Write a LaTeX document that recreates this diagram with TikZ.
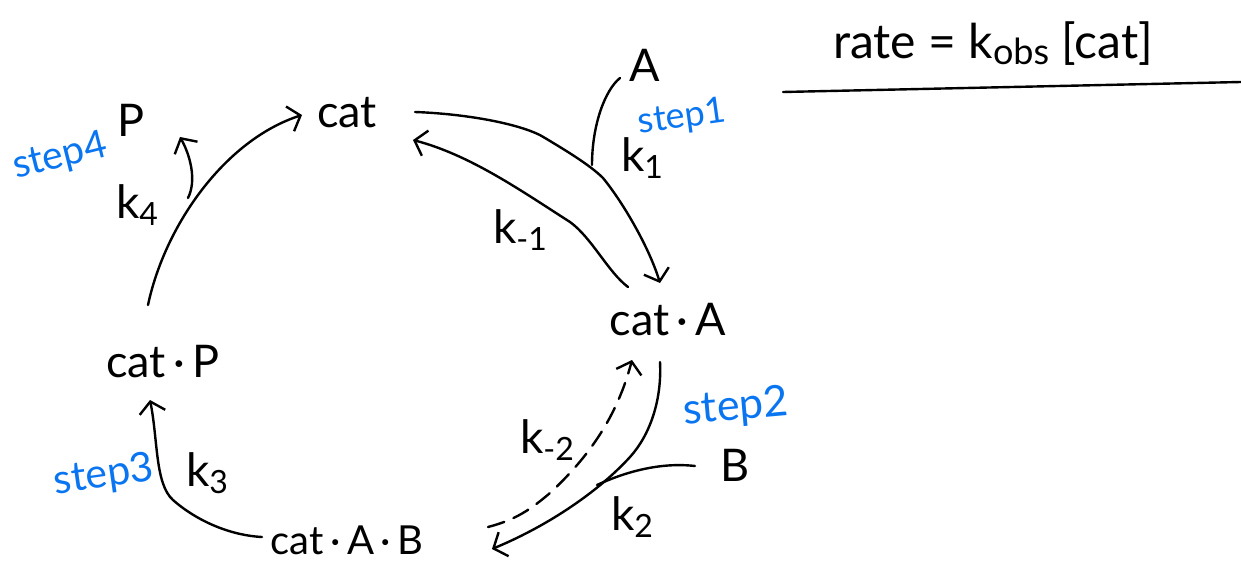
\documentclass[tikz,border=0pt]{standalone}
\usepackage{fontspec}
\setmainfont{Lato}
\usetikzlibrary{arrows.meta}
\definecolor{stepblue}{HTML}{0A75F0}
\newcommand{\ksub}[1]{k\raisebox{-7pt}{\fontsize{32}{34}\selectfont #1}}
\newcommand{\dotsep}{\,·\,}
\tikzset{
  x=1pt,y=-1pt,
  species/.style={inner sep=0pt,font=\fontsize{45}{50}\selectfont,text=black},
  rateconst/.style={inner sep=0pt,font=\fontsize{46}{50}\selectfont,text=black},
  steplabel/.style={inner sep=0pt,font=\fontsize{39}{42}\selectfont,text=stepblue},
  conn/.style={draw=black,line width=2.4pt,line cap=round,line join=round},
  flow/.style={conn,-{Straight Barb[length=11pt,width=26pt,line width=2.4pt]}},
  dashflow/.style={flow,dash pattern=on 17pt off 10pt}
}
\begin{document}
\begin{tikzpicture}
\useasboundingbox (0,0) rectangle (1241,561);
% species
\node[species] (cat) at (347,113) {cat};
\node[species] (catA) at (668,320) {cat\dotsep A};
\node[species] (catP) at (163,362) {cat\dotsep P};
\node[species,font=\fontsize{40}{44}\selectfont] (catAB) at (347,540) {cat\dotsep A\dotsep B};
\node[species] (A) at (645,65) {A};
\node[species] (B) at (735,465) {B};
\node[species] (P) at (131,120) {P};
% rate constants
\node[rateconst] (k1) at (642,158) {\ksub{1}};
\node[rateconst] (km1) at (520,230) {\ksub{-1}};
\node[rateconst] (k2) at (632,517) {\ksub{2}};
\node[rateconst] (km2) at (547,440) {\ksub{-2}};
\node[rateconst] (k3) at (207,473) {\ksub{3}};
\node[rateconst] (k4) at (137,205) {\ksub{4}};
% step labels
\node[steplabel,rotate=8,font=\fontsize{36}{40}\selectfont] (s1) at (682,118) {step1};
\node[steplabel,rotate=5,font=\fontsize{43}{46}\selectfont] (s2) at (736,408) {step2};
\node[steplabel,rotate=8,font=\fontsize{41}{44}\selectfont] (s3) at (104,476) {step3};
\node[steplabel,rotate=14] (s4) at (60,157) {step4};
% rate law
\node[species,font=\fontsize{48}{52}\selectfont] (rate) at (993,44) {rate = k\raisebox{-6pt}{\fontsize{36}{38}\selectfont obs} [cat]};
\coordinate (ruleL) at (783,92);
\coordinate (ruleR) at (1241,82);
\draw[conn] (ruleL) -- (ruleR);
% junctions
\coordinate (j1) at (592,165);
\coordinate (j2) at (597,485);
\coordinate (j4) at (188,198);
\coordinate (tipA) at (620,78);
\coordinate (tipB) at (695,466);
\coordinate (tipP) at (180,137);
% cycle
\draw[flow] ([shift={(68,-1)}]cat.center) .. controls (470,114) and (525,125) .. (545,138)
  .. controls (565,150) and (590,165) .. (603,178)
  .. controls (625,205) and (650,250) .. ([shift={(-8,-37)}]catA.center);
\draw[flow] ([shift={(-40,-33)}]catA.center) .. controls (608,272) and (592,238) .. (570,222)
  .. controls (520,190) and (470,155) .. ([shift={(66,27)}]cat.center);
\draw[conn] (j1) .. controls (592,125) and (605,90) .. (tipA);
\draw[flow] ([shift={(-8,42)}]catA.center) .. controls (662,400) and (650,435) .. (630,457)
  .. controls (600,490) and (550,525) .. ([shift={(145,9)}]catAB.center);
\draw[conn] (tipB) .. controls (660,462) and (625,472) .. (j2);
\draw[dashflow] ([shift={(141,-13)}]catAB.center) .. controls (515,520) and (530,510) .. (550,493)
  .. controls (580,465) and (615,425) .. ([shift={(-36,40)}]catA.center);
\draw[flow] ([shift={(-85,-3)}]catAB.center) .. controls (225,535) and (192,517) .. (173,500)
  .. controls (155,484) and (158,440) .. ([shift={(-13,38)}]catP.center);
\draw[flow] ([shift={(-15,-57)}]catP.center) .. controls (165,225) and (225,140) .. ([shift={(-45,2)}]cat.center);
\draw[flow] (j4) .. controls (197,180) and (190,155) .. (tipP);
\end{tikzpicture}
\end{document}
